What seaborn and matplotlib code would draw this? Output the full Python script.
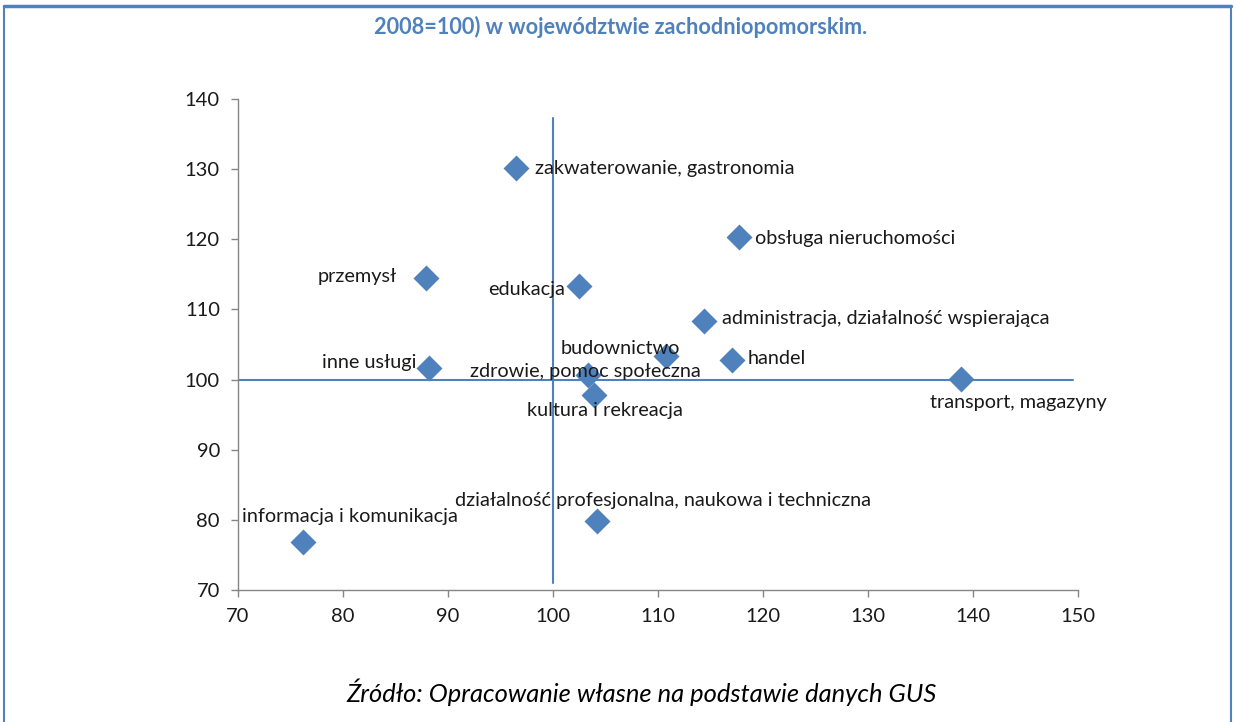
import matplotlib
matplotlib.use("Agg")
import matplotlib.pyplot as plt
import seaborn as sns
import pandas as pd
from matplotlib.lines import Line2D

# ---- data ----
sectors = [
    "zakwaterowanie, gastronomia",
    "obsługa nieruchomości",
    "przemysł",
    "edukacja",
    "administracja, działalność wspierająca",
    "budownictwo",
    "handel",
    "inne usługi",
    "zdrowie, pomoc społeczna",
    "kultura i rekreacja",
    "transport, magazyny",
    "działalność profesjonalna, naukowa i techniczna",
    "informacja i komunikacja",
]
x_values = [96.5, 117.7, 87.9, 102.5, 114.4, 110.8, 117.0, 88.2, 103.3, 103.9, 138.9, 104.2, 76.2]
y_values = [130.2, 120.3, 114.5, 113.3, 108.3, 103.3, 102.8, 101.6, 100.6, 97.8, 100.1, 79.8, 76.8]

x_ticks = [70, 80, 90, 100, 110, 120, 130, 140, 150]
y_ticks = [70, 80, 90, 100, 110, 120, 130, 140]

vline_x = [100, 100]
vline_y = [137.3, 71.0]
hline_x = [70, 149.5]
hline_y = [100, 100]

title_text = "2008=100) w województwie zachodniopomorskim."
source_text = "Źródło: Opracowanie własne na podstawie danych GUS"

# label offsets (pixels, y upward) and alignment
label_pos = [
    (19, -1, "left"),
    (16, -1, "left"),
    (-29, 1, "right"),
    (-14, -3, "right"),
    (18, 3, "left"),
    (-46, 8, "center"),
    (16, 1, "left"),
    (-13, 6, "right"),
    (-2, 4, "center"),
    (11, -15, "center"),
    (57, -24, "center"),
    (66, 21, "center"),
    (47, 26, "center"),
]

sns.set_style("white")
plt.rcParams["font.family"] = ["Lato", "DejaVu Sans"]

BLUE = "#4F81BD"
fig = plt.figure(figsize=(12.36, 7.22), dpi=100)
ax = fig.add_axes([238 / 1236, 1 - 590 / 722, (1078 - 238) / 1236, (590 - 99) / 722])

ax.plot(vline_x, vline_y, color=BLUE, lw=1.5, zorder=1)
ax.plot(hline_x, hline_y, color=BLUE, lw=1.5, zorder=1)

df = pd.DataFrame({"x": x_values, "y": y_values, "sector": sectors})
sns.scatterplot(data=df, x="x", y="y", marker="D", s=175, color=BLUE,
                edgecolor=BLUE, linewidth=0, ax=ax, zorder=3, legend=False)

for name, xv, yv, (dx, dy, ha) in zip(sectors, x_values, y_values, label_pos):
    ax.annotate(name, (xv, yv), xytext=(dx, dy), textcoords="offset pixels",
                ha=ha, va="center", fontsize=14.3, color="#1a1a1a", zorder=4)

ax.set_xlim(70, 150)
ax.set_ylim(70, 140)
ax.set_xticks(x_ticks)
ax.set_yticks(y_ticks)
ax.set_xlabel("")
ax.set_ylabel("")
for side in ["top", "right"]:
    ax.spines[side].set_visible(False)
for side in ["left", "bottom"]:
    ax.spines[side].set_color("#868686")
    ax.spines[side].set_linewidth(1.0)
ax.tick_params(axis="both", direction="out", length=5, width=1, color="#868686",
               labelsize=14.5, labelcolor="#1a1a1a", pad=8, bottom=True, left=True)

# title and source
fig.text(621 / 1236, 1 - 27 / 722, title_text, ha="center", va="center",
         fontsize=15.6, fontweight="bold", color=BLUE)
fig.text(642 / 1236, 1 - 692 / 722, source_text, ha="center", va="center",
         fontsize=18.4, style="italic", color="#000000")

# frame
fig.add_artist(Line2D([4 / 1236, 1231 / 1236], [1 - 6 / 722, 1 - 6 / 722],
                      color=BLUE, lw=2.5, transform=fig.transFigure))
fig.add_artist(Line2D([4 / 1236, 4 / 1236], [0, 1 - 6 / 722],
                      color=BLUE, lw=1.5, transform=fig.transFigure))
fig.add_artist(Line2D([1231 / 1236, 1231 / 1236], [0, 1 - 6 / 722],
                      color=BLUE, lw=1.5, transform=fig.transFigure))

fig.savefig("out.png", dpi=100)
